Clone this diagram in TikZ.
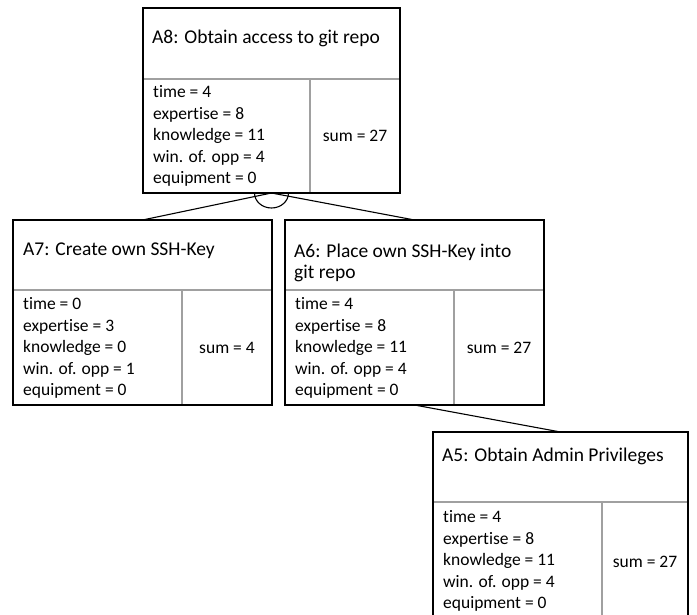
\documentclass[tikz,border=0pt]{standalone}
\usepackage{fontspec}
\setmainfont[Ligatures=NoCommon]{Carlito}
\usetikzlibrary{calc}
\definecolor{divgray}{RGB}{160,160,160}
\tikzset{
  box/.style={draw, line width=2.6pt, inner sep=0pt, outer sep=0pt},
  div/.style={draw=divgray, line width=1.2pt},
  ttl/.style={anchor=base west, inner sep=0pt, font=\fontsize{19.5}{24}\selectfont},
  attr/.style={anchor=west, inner sep=0pt, align=left, font=\fontsize{17.5}{21.4}\selectfont},
  sumtxt/.style={inner sep=0pt, font=\fontsize{17.5}{21.4}\selectfont},
  link/.style={draw, line width=1.1pt},
}
\begin{document}
\begin{tikzpicture}[x=1pt,y=-1pt]
\useasboundingbox (0,0) rectangle (697,615);
\clip (0,0) rectangle (697,615);
% dividers
\draw[div] (143,79) -- (400,79) (310,79) -- (310,193);
\draw[div] (13,290) -- (272,290) (182,290) -- (182,405);
\draw[div] (285,290) -- (544,290) (454,290) -- (454,405);
\draw[div] (433,502) -- (688,502) (602,502) -- (602,620);
% boxes
\node[box, minimum width=257pt, minimum height=185pt] (A8) at (271.5,100.5) {};
\node[box, minimum width=259pt, minimum height=185pt] (A7) at (142.5,312.5) {};
\node[box, minimum width=259pt, minimum height=185pt] (A6) at (414.5,312.5) {};
\node[box, minimum width=255pt, minimum height=188pt] (A5) at (560.5,526) {};
% titles
\node[ttl] (t8) at (152,44) {A8: Obtain access to git repo};
\node[ttl] (t7) at (23,256) {A7: Create own SSH-Key};
\node[ttl] (t6a) at (294,258) {A6: Place own SSH-Key into};
\node[ttl] (t6b) at (294,279) {git repo};
\node[ttl] (t5) at (442,461) {A5: Obtain Admin Privileges};
% attributes
\node[attr] (a8) at (153,136) {time = 4\\expertise = 8\\knowledge = 11\\win. of. opp = 4\\equipment = 0};
\node[attr] (a7) at (23,348) {time = 0\\expertise = 3\\knowledge = 0\\win. of. opp = 1\\equipment = 0};
\node[attr] (a6) at (295,348) {time = 4\\expertise = 8\\knowledge = 11\\win. of. opp = 4\\equipment = 0};
\node[attr] (a5) at (443,561) {time = 4\\expertise = 8\\knowledge = 11\\win. of. opp = 4\\equipment = 0};
% sums
\node[sumtxt] (s8) at (355,136) {sum = 27};
\node[sumtxt] (s7) at (227,348) {sum = 4};
\node[sumtxt] (s6) at (499,348) {sum = 27};
\node[sumtxt] (s5) at (645,562) {sum = 27};
% connectors
\draw[link] (A8.south) -- (A7.north);
\draw[link] (A8.south) -- (A6.north);
\draw[link] (A6.south) -- (A5.north);
\draw[link] ([xshift=-17pt]A8.south) arc[start angle=180, end angle=360, x radius=17pt, y radius=15pt];
\end{tikzpicture}
\end{document}
